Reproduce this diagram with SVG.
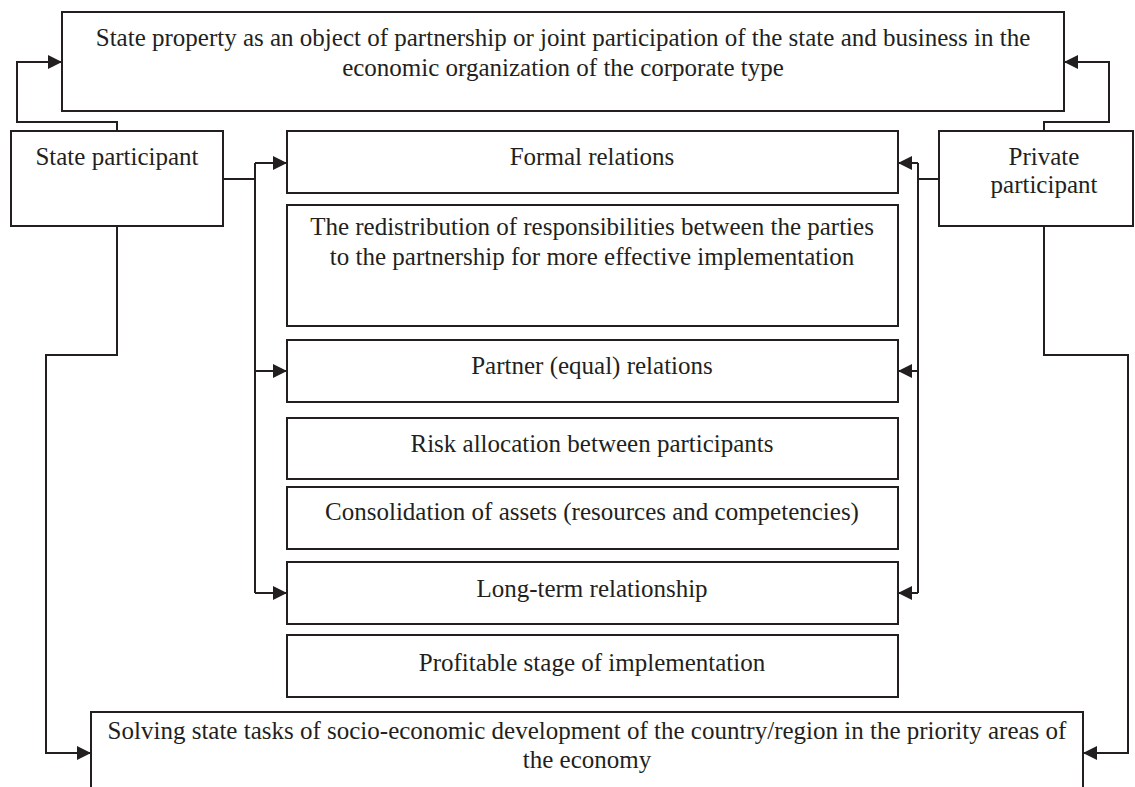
<svg xmlns="http://www.w3.org/2000/svg" width="1135" height="787" viewBox="0 0 1135 787">
<defs>
<marker id="ah" viewBox="0 0 14 14" refX="14" refY="7" markerWidth="14" markerHeight="14" markerUnits="userSpaceOnUse" orient="auto">
<path d="M0,0 L14,7 L0,14 Z" fill="#231f20"/>
</marker>
</defs>
<style>
.box{fill:#fff;stroke:#231f20;stroke-width:2}
.t{font-family:"Liberation Serif","Times New Roman",serif;font-size:25px;fill:#231f20;text-anchor:middle}
.c{fill:none;stroke:#231f20;stroke-width:2}
.a{marker-end:url(#ah)}
</style>
<rect width="1135" height="787" fill="#fff"/>
<g id="connectors">
<path class="c a" d="M117,131 V122 H17 V62 H62"/>
<path class="c a" d="M1044,131 V122 H1109 V62 H1064"/>
<path class="c" d="M223,179 H255"/>
<path class="c" d="M255,163 V593"/>
<path class="c a" d="M255,163 H287"/>
<path class="c a" d="M255,371 H287"/>
<path class="c a" d="M255,593 H287"/>
<path class="c" d="M939,179 H918"/>
<path class="c" d="M918,163 V593"/>
<path class="c a" d="M918,163 H898"/>
<path class="c a" d="M918,371 H898"/>
<path class="c a" d="M918,593 H898"/>
<path class="c a" d="M117,226 V355 H46 V753 H91"/>
<path class="c a" d="M1044,226 V355 H1128 V753 H1083"/>
</g>
<g id="top">
<rect class="box" x="62" y="12" width="1002" height="99"/>
<text class="t" x="563" y="46">State property as an object of partnership or joint participation of the state and business in the</text>
<text class="t" x="563" y="76">economic organization of the corporate type</text>
</g>
<g id="state">
<rect class="box" x="11" y="131" width="212" height="95"/>
<text class="t" x="117" y="165">State participant</text>
</g>
<g id="private">
<rect class="box" x="939" y="131" width="194" height="95"/>
<text class="t" x="1044" y="165">Private</text>
<text class="t" x="1044" y="193">participant</text>
</g>
<g id="formal">
<rect class="box" x="287" y="131" width="611" height="62"/>
<text class="t" x="592" y="165">Formal relations</text>
</g>
<g id="redistribution">
<rect class="box" x="287" y="205" width="611" height="121"/>
<text class="t" x="592" y="235">The redistribution of responsibilities between the parties</text>
<text class="t" x="592" y="265">to the partnership for more effective implementation</text>
</g>
<g id="partner">
<rect class="box" x="287" y="340" width="611" height="62"/>
<text class="t" x="592" y="374">Partner (equal) relations</text>
</g>
<g id="risk">
<rect class="box" x="287" y="418" width="611" height="61"/>
<text class="t" x="592" y="452">Risk allocation between participants</text>
</g>
<g id="consolidation">
<rect class="box" x="287" y="487" width="611" height="62"/>
<text class="t" x="592" y="520">Consolidation of assets (resources and competencies)</text>
</g>
<g id="longterm">
<rect class="box" x="287" y="562" width="611" height="62"/>
<text class="t" x="592" y="597">Long-term relationship</text>
</g>
<g id="profitable">
<rect class="box" x="287" y="635" width="611" height="62"/>
<text class="t" x="592" y="671">Profitable stage of implementation</text>
</g>
<g id="solving">
<rect class="box" x="91" y="712" width="992" height="100"/>
<text class="t" x="587" y="739">Solving state tasks of socio-economic development of the country/region in the priority areas of</text>
<text class="t" x="587" y="768">the economy</text>
</g>
</svg>
